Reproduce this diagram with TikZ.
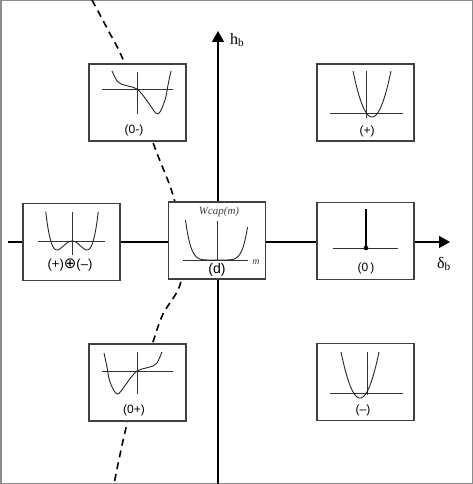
\documentclass[tikz,border=0pt]{standalone}
\usepackage{fontspec}
\setmainfont{Liberation Sans}
\newfontfamily\timesfont{Liberation Serif}
\newfontfamily\symfont{DejaVu Sans}
\usetikzlibrary{arrows.meta}
\begin{document}
\begin{tikzpicture}
        [
            x=1pt, y=-1pt,
            axis/.style={line width=1.4pt, -{Triangle[length=11pt,width=12pt]}},
            panel/.style={draw=black!75, line width=1.3pt, fill=white,
                minimum width=97pt, minimum height=77pt, inner sep=0pt},
            inaxis/.style={line width=0.9pt, black!80},
            curve/.style={line width=0.9pt, black!85},
            tag/.style={inner sep=0pt, font=\fontsize{12}{14}\selectfont},
            axlabel/.style={inner sep=0pt, font=\timesfont\fontsize{16}{18}\selectfont},
            frame/.style={draw=black!45, line width=1.5pt},
            firstorder/.style={line width=1.6pt, dash pattern=on 7pt off 5pt},
        ]
        \useasboundingbox (0,0) rectangle (473,484);
        \draw[frame] (0.75,0.75) rectangle (472.25,483.25);
        \draw[firstorder] plot[smooth] coordinates
            {(92,0) (108,30) (124,62) (155,148) (172,192) (184,242)
             (180,285) (163,314) (152,345) (128,420) (114,484)};
        \coordinate (west) at (8,242);
        \coordinate (east) at (450,242);
        \coordinate (south) at (218,484);
        \coordinate (north) at (218,31);
        \draw[axis] (west) -- (east);
        \draw[axis] (south) -- (north);
        \node[axlabel, anchor=west] (hb) at (230,40) {h\textsubscript{b}};
        \node[axlabel, anchor=west] (db) at (437,264) {δ\textsubscript{b}};
        \node[panel] (zminus) at (137.5,102.5) {};
        \node[panel] (plus) at (365.5,102.5) {};
        \node[panel] (mixed) at (71.5,242) {};
        \node[panel] (dcrit) at (217,240.5) {};
        \node[panel] (zero) at (365.5,241) {};
        \node[panel] (zplus) at (137.5,382.5) {};
        \node[panel] (minus) at (365.5,382) {};
        \begin{scope}[shift={(137,89)}]
            \draw[inaxis] (-35,0) -- (36,0) (0,-17) -- (0,25);
            \draw[curve] plot[smooth, tension=0.6] coordinates
                {(-25,-18) (-20,-8) (-16,-5) (-9,-3) (0,0) (8,9) (13,16)
                 (21,25) (28,11) (31,-4) (34,-18)};
        \end{scope}
        \begin{scope}[shift={(137,371)}, xscale=-1]
            \draw[inaxis] (-36,0) -- (35,0) (0,-19) -- (0,23);
            \draw[curve] plot[smooth, tension=0.6] coordinates
                {(-25,-19) (-20,-8) (-16,-5) (-9,-3) (0,0) (8,9) (13,16)
                 (20,23) (27,11) (30,-4) (33,-18)};
        \end{scope}
        \begin{scope}[shift={(366,113)}]
            \draw[inaxis] (-36,0) -- (37,0) (0,-42) -- (0,5);
            \draw[curve] plot[domain=-13:25, samples=50, variable=\t]
                (\t,{4-46*((\t-6)/19)*((\t-6)/19)});
        \end{scope}
        \begin{scope}[shift={(367,393)}]
            \draw[inaxis] (-37,0) -- (36,0) (0,-41) -- (0,2);
            \draw[curve] plot[domain=-26:12, samples=50, variable=\t]
                (\t,{5-46*((\t+7)/19)*((\t+7)/19)});
        \end{scope}
        \begin{scope}[shift={(72,241)}]
            \draw[inaxis] (-34,0) -- (33,0) (0,-29) -- (0,14);
            \draw[curve] plot[domain=-1.75:1.75, samples=70, variable=\u]
                ({15*\u},{-9*(\u*\u*\u*\u-2*\u*\u)});
        \end{scope}
        \begin{scope}[shift={(217,260)}]
            \draw[inaxis] (-34,0) -- (31,0) (0,-39) -- (0,0);
            \draw[curve] plot[domain=-31.5:30.5, samples=80, variable=\t]
                (\t,{-40*(\t/31.5)*(\t/31.5)*(\t/31.5)*(\t/31.5)*(\t/31.5)*(\t/31.5)});
        \end{scope}
        \begin{scope}[shift={(366,248)}]
            \draw[inaxis] (-33,0) -- (32,0);
            \draw[line width=2.2pt] (0,-39) -- (0,0);
            \fill (0,0) circle (2.3pt);
        \end{scope}
        \node[inner sep=0pt, text=black!75, font=\timesfont\itshape\fontsize{11}{13}\selectfont]
            (wcap) at (219,212) {Wcap(m)};
        \node[inner sep=0pt, text=black!75, font=\timesfont\itshape\fontsize{10}{12}\selectfont]
            (mlab) at (256,262) {m};
        \node[tag] (zminus-tag) at (134,130) {(0-)};
        \node[tag] (plus-tag) at (367,131) {(+)};
        \node[tag, font=\fontsize{13}{15}\selectfont] (mixed-tag) at (70,265)
            {(+){\symfont\fontsize{15}{15}\selectfont ⊕}(--)};
        \node[tag, font=\fontsize{14}{16}\selectfont] (dcrit-tag) at (217,270) {(d)};
        \node[tag] (zero-tag) at (366,268) {(0\,)};
        \node[tag] (zplus-tag) at (134,410) {(0+)};
        \node[tag] (minus-tag) at (363,410) {(--)};
\end{tikzpicture}
\end{document}
